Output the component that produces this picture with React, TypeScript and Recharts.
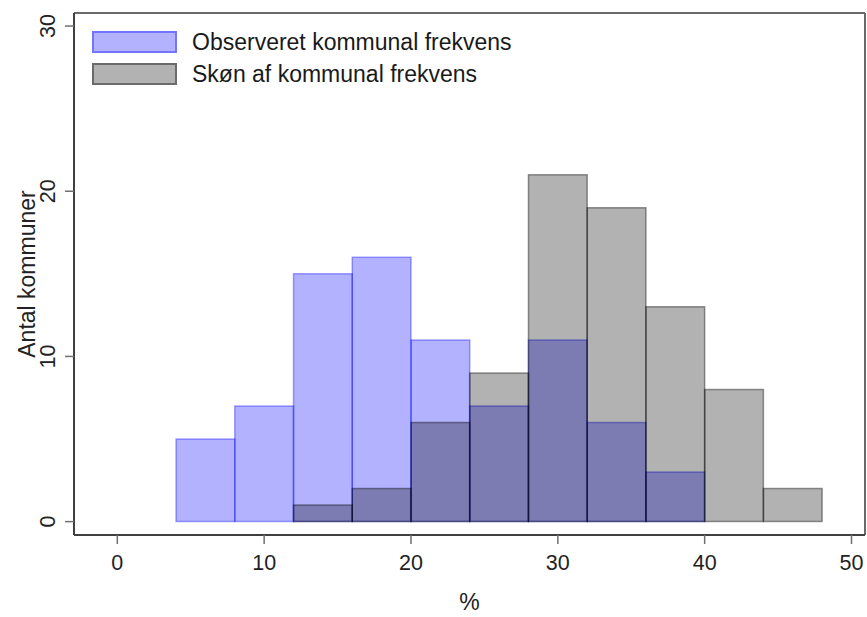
import {
  ComposedChart,
  XAxis,
  YAxis,
  ReferenceArea,
  ReferenceLine,
  Label,
} from 'recharts';

const binStarts = [4, 8, 12, 16, 20, 24, 28, 32, 36, 40, 44];
const binWidth = 4;
const observeret = [5, 7, 15, 16, 11, 7, 11, 6, 3, 0, 0];
const skoen = [0, 0, 1, 2, 6, 9, 21, 19, 13, 8, 2];
const xTicks = [0, 10, 20, 30, 40, 50];
const yTicks = [0, 10, 20, 30];

const X_DOMAIN = [-2.95, 50.92];
const Y_DOMAIN = [-0.81, 30.79];

const FONT = '"Liberation Sans", Arial, sans-serif';
const BLUE_FILL = 'rgba(0, 0, 255, 0.3)';
const BLUE_LINE = 'rgba(0, 0, 255, 0.35)';
const GRAY_FILL = 'rgba(0, 0, 0, 0.3)';
const GRAY_LINE = 'rgba(0, 0, 0, 0.4)';

const bins = binStarts.map((start, i) => ({
  start,
  end: start + binWidth,
  observeret: observeret[i],
  skoen: skoen[i],
}));

const legendItems = [
  { label: 'Observeret kommunal frekvens', fill: BLUE_FILL, line: BLUE_LINE },
  { label: 'Skøn af kommunal frekvens', fill: GRAY_FILL, line: GRAY_LINE },
];

// y tick labels staan lodret i Stata-stil
const YTick = ({ x, y, payload }: any) => (
  <g transform={`translate(${x},${y})`}>
    <text
      transform="rotate(-90)"
      textAnchor="middle"
      fill="#222"
      fontSize={21.5}
      fontFamily={FONT}
    >
      {payload.value}
    </text>
  </g>
);

const HistLegend = () => (
  <div
    style={{
      position: 'absolute',
      top: 26,
      left: 92,
      fontFamily: FONT,
    }}
  >
    {legendItems.map((item) => (
      <div
        key={item.label}
        style={{ display: 'flex', alignItems: 'center', height: 32 }}
      >
        <div
          style={{
            width: 85,
            height: 22,
            boxSizing: 'border-box',
            background: item.fill,
            border: `2px solid ${item.line}`,
          }}
        />
        <span
          style={{
            marginLeft: 15,
            fontSize: 23,
            color: '#1a1a1a',
            lineHeight: '22px',
            whiteSpace: 'nowrap',
          }}
        >
          {item.label}
        </span>
      </div>
    ))}
  </div>
);

export default function App() {
  return (
    <div
      style={{ position: 'relative', width: 867, height: 617, background: '#fff' }}
    >
      <style>{'body{margin:0;}'}</style>
      <ComposedChart
        width={867}
        height={617}
        data={bins}
        margin={{ top: 13, right: 2, bottom: 0, left: 0 }}
      >
        <XAxis
          dataKey="start"
          type="number"
          domain={X_DOMAIN}
          allowDataOverflow
          ticks={xTicks}
          height={82}
          tickSize={9}
          tickMargin={11}
          axisLine={{ stroke: '#404040', strokeWidth: 2 }}
          tickLine={{ stroke: '#707070', strokeWidth: 1.5 }}
          tick={{ fill: '#222', fontSize: 21.5, fontFamily: FONT }}
        >
          <Label
            content={({ viewBox }: any) => (
              <text
                x={viewBox.x + viewBox.width / 2}
                y={viewBox.y + 75}
                textAnchor="middle"
                fill="#222"
                fontSize={23}
                fontFamily={FONT}
              >
                %
              </text>
            )}
          />
        </XAxis>
        <YAxis
          type="number"
          domain={Y_DOMAIN}
          allowDataOverflow
          ticks={yTicks}
          width={74}
          tickSize={9}
          tickMargin={10}
          axisLine={{ stroke: '#404040', strokeWidth: 2 }}
          tickLine={{ stroke: '#707070', strokeWidth: 1.5 }}
          tick={<YTick />}
        >
          <Label
            content={({ viewBox }: any) => {
              const cx = 35;
              const cy = viewBox.y + viewBox.height / 2;
              return (
                <text
                  x={cx}
                  y={cy}
                  transform={`rotate(-90 ${cx} ${cy})`}
                  textAnchor="middle"
                  fill="#222"
                  fontSize={23}
                  fontFamily={FONT}
                >
                  Antal kommuner
                </text>
              );
            }}
          />
        </YAxis>

        {/* observeret først, skøn ovenpå så overlap bliver mørkt */}
        {bins
          .filter((b) => b.observeret > 0)
          .map((b) => (
            <ReferenceArea
              key={`obs-${b.start}`}
              x1={b.start}
              x2={b.end}
              y1={0}
              y2={b.observeret}
              fill="#0000ff"
              fillOpacity={0.3}
              stroke="#0000ff"
              strokeOpacity={0.35}
              strokeWidth={1.5}
            />
          ))}
        {bins
          .filter((b) => b.skoen > 0)
          .map((b) => (
            <ReferenceArea
              key={`sk-${b.start}`}
              x1={b.start}
              x2={b.end}
              y1={0}
              y2={b.skoen}
              fill="#000000"
              fillOpacity={0.3}
              stroke="#000000"
              strokeOpacity={0.4}
              strokeWidth={1.5}
            />
          ))}

        {/* ramme: top og højre kant af plotområdet */}
        <ReferenceLine y={Y_DOMAIN[1]} stroke="#6a6a6a" strokeWidth={2} />
        <ReferenceLine x={X_DOMAIN[1]} stroke="#6a6a6a" strokeWidth={2} />
      </ComposedChart>
      <HistLegend />
    </div>
  );
}
